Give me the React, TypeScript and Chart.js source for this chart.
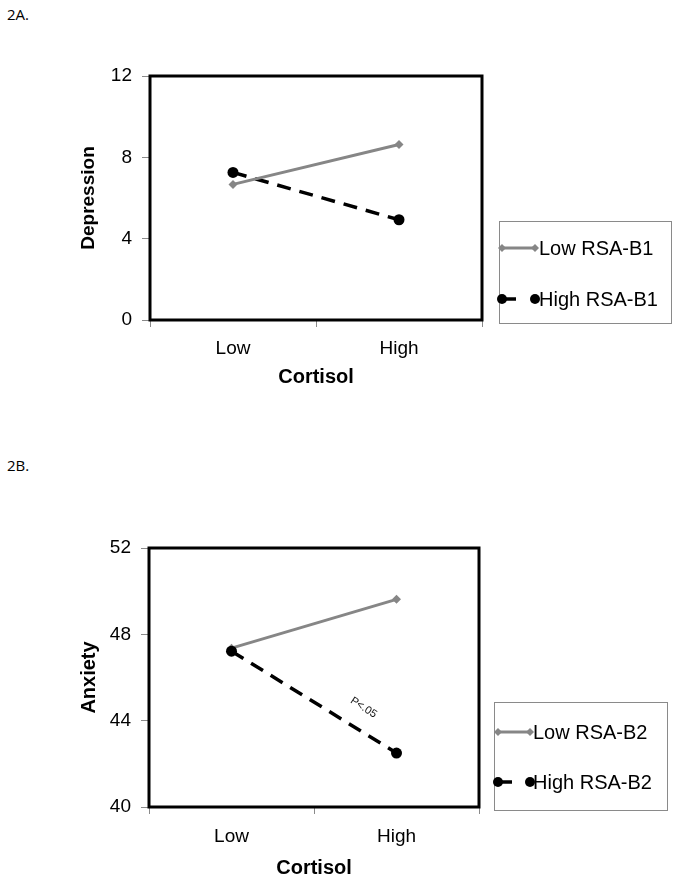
import React, { useEffect, useRef } from "react";
import { Chart, registerables } from "chart.js";

Chart.register(...registerables);

// ---------- data ----------
const categories = ["Low", "High"];
const xAxisTitle = "Cortisol";

const panelALabel = "2A.";
const panelAYTitle = "Depression";
const panelASeries = ["Low RSA-B1", "High RSA-B1"];
const depressionLowRSA = [6.67, 8.63];
const depressionHighRSA = [7.26, 4.93];
const depressionTicks = [0, 4, 8, 12];

const panelBLabel = "2B.";
const panelBYTitle = "Anxiety";
const panelBSeries = ["Low RSA-B2", "High RSA-B2"];
const anxietyLowRSA = [47.36, 49.62];
const anxietyHighRSA = [47.22, 42.5];
const anxietyTicks = [40, 44, 48, 52];
const annotationText = "P<.05";
const annotationAt = { x: 0.8, y: 44.6 };

// ---------- styles ----------
const FONT = "'Liberation Sans', Arial, sans-serif";
const GREY = "#868686";
const BLACK = "#000000";

function drawMarker(ctx: CanvasRenderingContext2D, style: string, x: number, y: number, r: number, color: string) {
  ctx.save();
  ctx.fillStyle = color;
  ctx.beginPath();
  if (style === "rectRot") {
    ctx.moveTo(x, y - r);
    ctx.lineTo(x + r, y);
    ctx.lineTo(x, y + r);
    ctx.lineTo(x - r, y);
    ctx.closePath();
  } else {
    ctx.arc(x, y, r, 0, Math.PI * 2);
  }
  ctx.fill();
  ctx.restore();
}

const framePlugin = {
  id: "frame",
  beforeDatasetsDraw(chart: any) {
    const { ctx, chartArea } = chart;
    ctx.save();
    ctx.strokeStyle = "#000";
    ctx.lineWidth = 3;
    ctx.strokeRect(chartArea.left, chartArea.top, chartArea.right - chartArea.left, chartArea.bottom - chartArea.top);
    ctx.restore();
  },
};

const boxLegendPlugin = {
  id: "boxLegend",
  afterDraw(chart: any, _args: any, opts: any) {
    if (!opts || !opts.box) return;
    const ctx = chart.ctx as CanvasRenderingContext2D;
    const [bx, by, bw, bh] = opts.box;
    ctx.save();
    ctx.strokeStyle = "#8a8a8a";
    ctx.lineWidth = 1;
    ctx.strokeRect(bx + 0.5, by + 0.5, bw, bh);
    chart.data.datasets.forEach((ds: any, i: number) => {
      const y = opts.rows[i];
      ctx.save();
      ctx.strokeStyle = ds.borderColor;
      ctx.lineWidth = ds.borderWidth;
      ctx.setLineDash(ds.borderDash ? [ds.borderDash[0], 20] : []);
      ctx.beginPath();
      ctx.moveTo(opts.x1, y);
      ctx.lineTo(opts.x2, y);
      ctx.stroke();
      ctx.restore();
      const r = ds.pointStyle === "rectRot" ? 4 : 5;
      drawMarker(ctx, ds.pointStyle, opts.x1, y, r, ds.borderColor);
      drawMarker(ctx, ds.pointStyle, opts.x2, y, r, ds.borderColor);
      ctx.fillStyle = "#000";
      ctx.font = `20px ${FONT}`;
      ctx.textAlign = "left";
      ctx.textBaseline = "middle";
      ctx.fillText(ds.label, opts.textX, y + 1);
    });
    ctx.restore();
  },
};

const annotPlugin = {
  id: "pAnnot",
  afterDatasetsDraw(chart: any, _args: any, opts: any) {
    if (!opts || !opts.text) return;
    const ctx = chart.ctx as CanvasRenderingContext2D;
    const x = chart.scales.x.getPixelForValue(opts.x);
    const y = chart.scales.y.getPixelForValue(opts.y);
    ctx.save();
    ctx.translate(x, y);
    ctx.rotate((opts.angle * Math.PI) / 180);
    ctx.font = `11px ${FONT}`;
    ctx.fillStyle = "#111";
    ctx.textAlign = "center";
    ctx.textBaseline = "middle";
    ctx.fillText(opts.text, 0, 0);
    ctx.restore();
  },
};

type Panel = {
  width: number;
  height: number;
  yTitle: string;
  yTitleSize: number;
  series: string[];
  low: number[];
  high: number[];
  ticks: number[];
  padding: { left: number; top: number; right: number; bottom: number };
  yW: number;
  xH: number;
  xTickPad: number;
  legend: any;
  annot?: any;
  highOnTop: boolean;
};

function makeConfig(p: Panel): any {
  return {
    type: "line",
    data: {
      labels: categories,
      datasets: [
        {
          label: p.series[0],
          data: p.low,
          borderColor: GREY,
          backgroundColor: GREY,
          borderWidth: 3,
          pointStyle: "rectRot",
          pointRadius: 4.5,
          pointBorderWidth: 0,
          pointBackgroundColor: GREY,
          order: p.highOnTop ? 1 : 0,
        },
        {
          label: p.series[1],
          data: p.high,
          borderColor: BLACK,
          backgroundColor: BLACK,
          borderWidth: 3.5,
          borderDash: [14, 9],
          pointStyle: "circle",
          pointRadius: 5.5,
          pointBorderWidth: 0,
          pointBackgroundColor: BLACK,
          order: p.highOnTop ? 0 : 1,
        },
      ],
    },
    options: {
      animation: false,
      responsive: false,
      maintainAspectRatio: false,
      layout: { padding: p.padding },
      plugins: {
        legend: { display: false },
        tooltip: { enabled: false },
        boxLegend: p.legend,
        pAnnot: p.annot || {},
      },
      scales: {
        x: {
          type: "category",
          offset: true,
          grid: { offset: true, drawOnChartArea: false, tickLength: 7, color: "#8a8a8a", lineWidth: 1 },
          border: { display: false },
          ticks: { color: "#000", font: { family: FONT, size: 19 }, padding: p.xTickPad },
          title: {
            display: true,
            text: xAxisTitle,
            color: "#000",
            font: { family: FONT, size: 20, weight: "bold" },
            padding: 0,
          },
          afterFit: (s: any) => {
            s.height = p.xH;
          },
        },
        y: {
          min: p.ticks[0],
          max: p.ticks[p.ticks.length - 1],
          ticks: { stepSize: p.ticks[1] - p.ticks[0], color: "#000", font: { family: FONT, size: 19 }, padding: 10 },
          grid: { drawOnChartArea: false, tickLength: 8, color: "#8a8a8a", lineWidth: 1 },
          border: { display: false },
          title: {
            display: true,
            text: p.yTitle,
            color: "#000",
            font: { family: FONT, size: p.yTitleSize, weight: "bold" },
            padding: 0,
          },
          afterFit: (s: any) => {
            s.width = p.yW;
          },
        },
      },
    },
    plugins: [framePlugin, boxLegendPlugin, annotPlugin],
  };
}

const panelA: Panel = {
  width: 679,
  height: 440,
  yTitle: panelAYTitle,
  yTitleSize: 19,
  series: panelASeries,
  low: depressionLowRSA,
  high: depressionHighRSA,
  ticks: depressionTicks,
  padding: { left: 77, top: 76, right: 197, bottom: 51 },
  yW: 73,
  xH: 69,
  xTickPad: 10,
  legend: { box: [499, 221, 172, 102], rows: [248, 299], x1: 502, x2: 535, textX: 539 },
  highOnTop: false,
};

const panelB: Panel = {
  width: 679,
  height: 442,
  yTitle: panelBYTitle,
  yTitleSize: 20,
  series: panelBSeries,
  low: anxietyLowRSA,
  high: anxietyHighRSA,
  ticks: anxietyTicks,
  padding: { left: 77, top: 108, right: 200, bottom: 2 },
  yW: 72,
  xH: 73,
  xTickPad: 11,
  legend: { box: [494, 262, 173, 108], rows: [292, 342], x1: 498, x2: 530, textX: 533 },
  annot: { text: annotationText, x: annotationAt.x, y: annotationAt.y, angle: 33 },
  highOnTop: true,
};

function ChartPanel({ panel, top }: { panel: Panel; top: number }) {
  const ref = useRef<HTMLCanvasElement | null>(null);
  useEffect(() => {
    if (!ref.current) return;
    const chart = new Chart(ref.current, makeConfig(panel));
    return () => chart.destroy();
  }, [panel]);
  return (
    <canvas
      ref={ref}
      width={panel.width}
      height={panel.height}
      style={{ position: "absolute", left: 0, top, width: panel.width, height: panel.height }}
    />
  );
}

export default function App() {
  const labelStyle: React.CSSProperties = {
    position: "absolute",
    left: 7,
    fontFamily: "'Open Sans', sans-serif",
    fontSize: 15,
    lineHeight: "20px",
    color: "#000",
  };
  return (
    <div style={{ position: "absolute", left: 0, top: 0, width: 679, height: 882, background: "#fff", overflow: "hidden" }}>
      <div style={{ ...labelStyle, top: 4 }}>{panelALabel}</div>
      <div style={{ ...labelStyle, top: 455 }}>{panelBLabel}</div>
      <ChartPanel panel={panelA} top={0} />
      <ChartPanel panel={panelB} top={440} />
    </div>
  );
}
